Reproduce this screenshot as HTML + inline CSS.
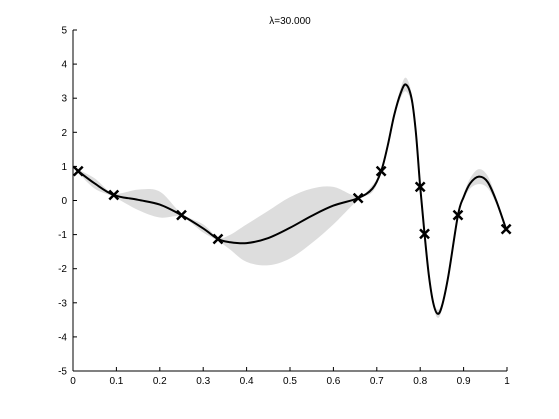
<!DOCTYPE html>
<html><head><meta charset="utf-8"><style>
body{margin:0;background:#fff;}
svg{display:block;font-family:"Liberation Sans",sans-serif;}
</style></head><body>
<svg id="chart" width="559" height="419">
<text x="290" y="24" font-size="10" text-anchor="middle">λ=30.000</text>
<g id="band"></g>
<g id="axes"></g>
<g id="line"></g>
<g id="obs"></g>
</svg>
<script>
const xs = [0.012,0.05,0.094,0.15,0.2,0.25,0.3,0.334,0.36,0.4,0.45,0.5,0.55,0.6,0.657,0.69,0.71,0.725,0.74,0.755,0.767,0.78,0.79,0.80,0.81,0.82,0.83,0.84,0.85,0.865,0.887,0.90,0.915,0.935,0.955,0.975,0.998];
const meanVals = [0.86,0.5,0.16,0.02,-0.12,-0.43,-0.82,-1.13,-1.22,-1.25,-1.1,-0.8,-0.45,-0.15,0.07,0.35,0.86,1.6,2.5,3.15,3.4,3.0,2.0,0.4,-0.98,-2.2,-3.0,-3.32,-3.1,-2.2,-0.43,0.1,0.5,0.7,0.55,0.0,-0.84];
const stdVals = [0.05,0.15,0.05,0.3,0.38,0.05,0.12,0.05,0.2,0.55,0.8,0.9,0.8,0.55,0.05,0.1,0.05,0.05,0.08,0.15,0.2,0.15,0.08,0.02,0.02,0.04,0.08,0.12,0.1,0.05,0.02,0.08,0.15,0.22,0.18,0.1,0.03];
const obsX = [0.012,0.094,0.25,0.334,0.657,0.71,0.80,0.81,0.887,0.998];
const obsY = [0.86,0.16,-0.43,-1.13,0.07,0.86,0.40,-0.98,-0.43,-0.84];
const xTicks = [0,0.1,0.2,0.3,0.4,0.5,0.6,0.7,0.8,0.9,1];
const yTicks = [-5,-4,-3,-2,-1,0,1,2,3,4,5];
const NS='http://www.w3.org/2000/svg';
const X0=73,X1=507,Y5=30,Ym5=371;
const sx=v=>X0+(X1-X0)*v;
const sy=v=>Ym5-(Ym5-Y5)*(v+5)/10;
function mk(tag,attrs,parent){const e=document.createElementNS(NS,tag);for(const k in attrs)e.setAttribute(k,attrs[k]);parent.appendChild(e);return e;}
function segs(pts){let d='';for(let i=0;i<pts.length-1;i++){const p0=pts[Math.max(i-1,0)],p1=pts[i],p2=pts[i+1],p3=pts[Math.min(i+2,pts.length-1)];const c1=[p1[0]+(p2[0]-p0[0])/6,p1[1]+(p2[1]-p0[1])/6],c2=[p2[0]-(p3[0]-p1[0])/6,p2[1]-(p3[1]-p1[1])/6];d+=' C'+c1[0]+','+c1[1]+' '+c2[0]+','+c2[1]+' '+p2[0]+','+p2[1];}return d;}
function smooth(pts){return 'M'+pts[0][0]+','+pts[0][1]+segs(pts);}
const up=xs.map((x,i)=>[sx(x),sy(meanVals[i]+stdVals[i])]);
const lo=xs.map((x,i)=>[sx(x),sy(meanVals[i]-stdVals[i])]).reverse();
const bandD=smooth(up)+' L'+lo[0][0]+','+lo[0][1]+segs(lo)+'Z';
const band=mk('path',{d:bandD,fill:'#dddddd',stroke:'none'},document.getElementById('band'));


const ax=document.getElementById('axes');
mk('line',{x1:X0,y1:Y5,x2:X0,y2:Ym5,stroke:'#000'},ax);
mk('line',{x1:X0,y1:Ym5,x2:X1,y2:Ym5,stroke:'#000'},ax);
xTicks.forEach(t=>{mk('line',{x1:sx(t),y1:Ym5,x2:sx(t),y2:Ym5-4,stroke:'#000'},ax);
const tx=mk('text',{x:sx(t),y:Ym5+13,'font-size':10,'text-anchor':'middle'},ax);tx.textContent=t;

});
yTicks.forEach(t=>{mk('line',{x1:X0,y1:sy(t),x2:X0+4,y2:sy(t),stroke:'#000'},ax);
const tx=mk('text',{x:X0-6,y:sy(t)+3.5,'font-size':10,'text-anchor':'end'},ax);tx.textContent=t;

});
const ml=mk('path',{d:smooth(xs.map((x,i)=>[sx(x),sy(meanVals[i])])),fill:'none',stroke:'#000','stroke-width':2},document.getElementById('line'));


const og=document.getElementById('obs');
obsX.forEach((x,i)=>{const cx=sx(x),cy=sy(obsY[i]);
const p=mk('path',{d:`M${cx-4.5},${cy-4.5}L${cx+4.5},${cy+4.5}M${cx-4.5},${cy+4.5}L${cx+4.5},${cy-4.5}`,stroke:'#000','stroke-width':2.5},og);

});
</script>
</body></html>
